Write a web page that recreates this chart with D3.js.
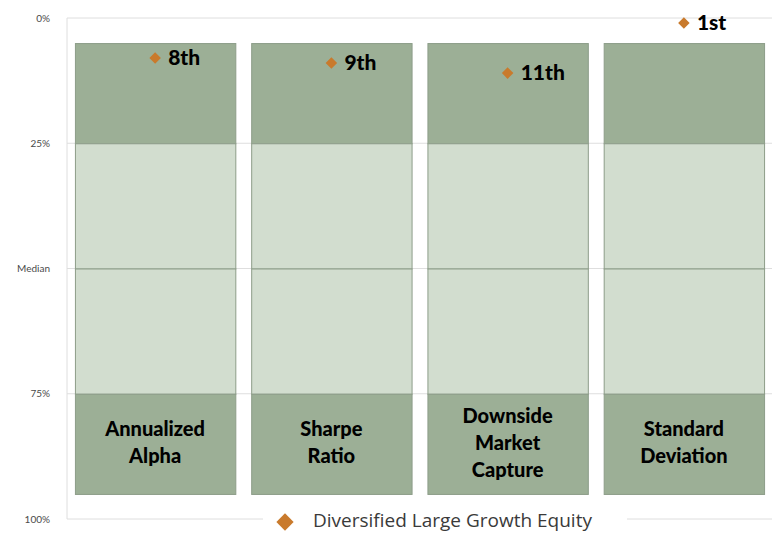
<!DOCTYPE html>
<html>
<head>
<meta charset="utf-8">
<script src="https://cdn.jsdelivr.net/npm/d3@7"></script>
<style>
  html, body { margin: 0; padding: 0; background: #fff; }
  svg { display: block; }
</style>
</head>
<body>
<div id="chart"></div>
<script>
// peer ranking chart - quartile bands with the fund's rank per metric
const categories = ['Annualized Alpha', 'Sharpe Ratio', 'Downside Market Capture', 'Standard Deviation'];
const categoryLines = [['Annualized', 'Alpha'], ['Sharpe', 'Ratio'], ['Downside', 'Market', 'Capture'], ['Standard', 'Deviation']];
const ranks = [8, 9, 11, 1];
const rankLabels = ['8th', '9th', '11th', '1st'];
const bandEdges = [5, 25, 50, 75, 95];
const bandShades = ['dark', 'light', 'light', 'dark'];
const tickValues = [0, 25, 50, 75, 100];
const tickLabels = ['0%', '25%', 'Median', '75%', '100%'];
const seriesName = 'Diversified Large Growth Equity';

const size = { width: 772, height: 534 };
const plot = { left: 67, right: 772, top: 18, bottom: 519 };

const svg = d3.select('#chart').append('svg')
  .attr('width', size.width)
  .attr('height', size.height);

const y = d3.scaleLinear().domain([0, 100]).range([plot.top, plot.bottom]);
const x = d3.scaleBand()
  .domain(categories)
  .range([plot.left, plot.right])
  .paddingInner(0.09)
  .paddingOuter(0.045);

const colors = { dark: '#9caf96', light: '#d2ddcf' };
const markerColor = '#c97a2c';

// gridlines
svg.append('g')
  .selectAll('line')
  .data(tickValues)
  .enter()
  .append('line')
  .attr('x1', plot.left)
  .attr('x2', plot.right)
  .attr('y1', (d) => y(d))
  .attr('y2', (d) => y(d))
  .style('stroke', '#dedede');

svg.append('line')
  .attr('x1', plot.left)
  .attr('x2', plot.left)
  .attr('y1', plot.top)
  .attr('y2', plot.bottom)
  .style('stroke', '#dedede');

// y axis labels
const yAxis = svg.append('g')
  .attr('transform', `translate(${plot.left - 14},0)`)
  .call(d3.axisLeft(y).tickValues(tickValues).tickFormat((d, i) => tickLabels[i]).tickSize(0));
yAxis.select('.domain').remove();
yAxis.selectAll('text')
  .style('font-family', 'Lato, sans-serif')
  .style('font-size', '10px')
  .attr('fill', '#4a4a4a');

// quartile bands
const segments = [];
categories.forEach((c) => {
  bandShades.forEach((s, i) => {
    segments.push({ cat: c, from: bandEdges[i], to: bandEdges[i + 1], shade: s });
  });
});

svg.append('g')
  .selectAll('rect')
  .data(segments)
  .enter()
  .append('rect')
  .attr('x', (d) => x(d.cat) + 0.5)
  .attr('y', (d) => y(d.from) + 0.5)
  .attr('width', x.bandwidth())
  .attr('height', (d) => y(d.to) - y(d.from))
  .attr('fill', (d) => colors[d.shade])
  .attr('stroke', '#8d9d89')
  .attr('stroke-width', 1);

// category names inside the bottom band
const nameGroup = svg.append('g');
categories.forEach((c, i) => {
  const lines = categoryLines[i];
  const lh = 27;
  const mid = (y(bandEdges[3]) + y(bandEdges[4])) / 2;
  const t = nameGroup.append('text')
    .attr('text-anchor', 'middle')
    .style('font-family', 'Lato, sans-serif')
    .style('font-weight', '900')
    .style('font-size', '20px')
    .attr('fill', '#000');
  lines.forEach((ln, j) => {
    t.append('tspan')
      .attr('x', x(c) + x.bandwidth() / 2)
      .attr('y', mid + (j - (lines.length - 1) / 2) * lh + 6)
      .text(ln);
  });
});

// rank markers
const diamond = d3.symbol().type(d3.symbolDiamond2).size(85);
const markers = svg.append('g');
markers.selectAll('path')
  .data(ranks)
  .enter()
  .append('path')
  .attr('d', diamond)
  .attr('transform', (d, i) => `translate(${x(categories[i]) + x.bandwidth() / 2},${y(d)})`)
  .attr('fill', markerColor);

markers.selectAll('text')
  .data(ranks)
  .enter()
  .append('text')
  .attr('x', (d, i) => x(categories[i]) + x.bandwidth() / 2 + 13)
  .attr('y', (d) => y(d) + 7)
  .style('font-family', 'Lato, sans-serif')
  .style('font-weight', '900')
  .style('font-size', '21px')
  .attr('fill', '#000')
  .text((d, i) => rankLabels[i]);

// legend
const legend = svg.append('g');
legend.append('rect')
  .attr('x', 263)
  .attr('y', 508)
  .attr('width', 364)
  .attr('height', 26)
  .attr('fill', '#fff');
legend.append('path')
  .attr('d', d3.symbol().type(d3.symbolDiamond2).size(190))
  .attr('transform', 'translate(285,522)')
  .attr('fill', markerColor);
legend.append('text')
  .attr('x', 313)
  .attr('y', 527)
  .style('font-family', '"Open Sans", sans-serif')
  .style('font-size', '19px')
  .attr('fill', '#3a3a3a')
  .text(seriesName);
</script>
</body>
</html>
